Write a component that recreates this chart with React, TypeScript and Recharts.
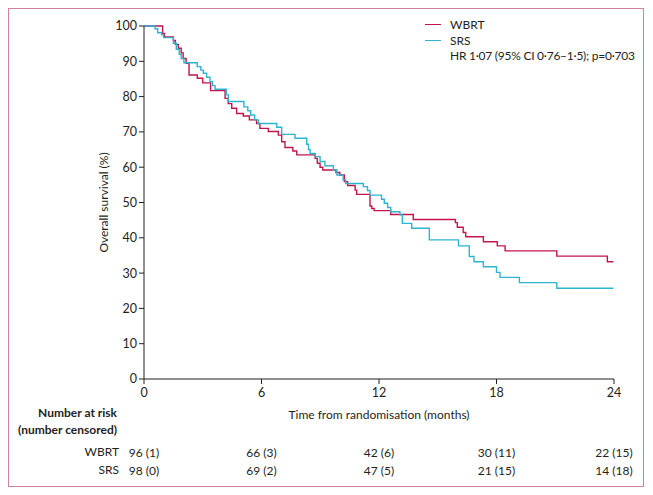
import React from "react";
import { LineChart, Line, XAxis, YAxis } from "recharts";

// Kaplan-Meier steps (months, % surviving)
const wbrtTimes = [0, 0.95, 1.05, 1.5, 1.6, 1.75, 1.9, 2.0, 2.15, 2.3, 2.72, 3.0, 3.4, 4.14, 4.3, 4.48, 4.73, 5.07, 5.38, 5.75, 5.92, 6.35, 6.86, 7.03, 7.2, 7.6, 7.8, 8.74, 8.85, 8.99, 9.13, 9.8, 10.0, 10.23, 10.4, 10.78, 10.86, 11.54, 11.63, 11.75, 12.6, 13.75, 15.9, 16.0, 16.3, 16.43, 17.33, 18.04, 18.44, 21.08, 23.66, 23.97];
const wbrtSurv = [100, 97.9, 96.9, 95.9, 94.8, 93.7, 92.4, 90.8, 89.4, 86.1, 85.2, 83.9, 81.7, 79.5, 78.0, 76.7, 75.2, 74.5, 73.4, 72.4, 71.0, 70.1, 69.1, 67.2, 65.6, 64.6, 63.5, 62.5, 61.1, 60.0, 59.2, 58.5, 57.8, 55.9, 54.8, 53.5, 52.3, 49.0, 48.3, 47.7, 46.6, 45.2, 44.3, 43.0, 41.5, 40.3, 38.9, 37.7, 36.3, 34.8, 33.2, 33.2];

const srsTimes = [0, 0.56, 0.7, 0.9, 1.0, 1.5, 1.65, 1.8, 1.9, 2.04, 2.72, 2.9, 3.03, 3.2, 3.37, 3.5, 3.63, 4.2, 4.31, 5.1, 5.3, 5.45, 5.65, 5.84, 6.78, 7.03, 7.71, 8.31, 8.4, 8.48, 8.74, 8.99, 9.24, 9.67, 9.85, 10.17, 10.3, 11.2, 11.41, 11.54, 12.13, 12.27, 12.44, 12.6, 13.07, 13.19, 13.67, 14.57, 16.06, 16.61, 16.85, 17.33, 18.0, 18.18, 19.17, 21.08, 23.97];
const srsSurv = [100, 99.2, 98.1, 97.5, 96.7, 95.1, 93.4, 92.0, 90.8, 89.6, 88.5, 87.5, 86.6, 85.5, 84.2, 83.1, 82.1, 80.5, 78.6, 77.1, 76.0, 74.8, 73.4, 72.4, 71.3, 69.3, 68.2, 66.5, 65.0, 63.9, 63.0, 61.6, 60.4, 59.2, 57.8, 56.4, 55.4, 54.5, 53.4, 52.1, 50.9, 49.8, 48.6, 47.4, 46.5, 44.1, 42.7, 39.4, 37.7, 34.7, 33.2, 31.8, 30.2, 28.8, 27.3, 25.7, 25.7];

const xTicks = [0, 6, 12, 18, 24];
const yTicks = [0, 10, 20, 30, 40, 50, 60, 70, 80, 90, 100];
const wbrtRisk = ["96 (1)", "66 (3)", "42 (6)", "30 (11)", "22 (15)"];
const srsRisk = ["98 (0)", "69 (2)", "47 (5)", "21 (15)", "14 (18)"];

const WBRT_COLOR = "#c3154c";
const SRS_COLOR = "#2db4cf";
const INK = "#231f20";
const FONT = "Lato, 'Open Sans', sans-serif";

const wbrtData = wbrtTimes.map((t, i) => ({ t, s: wbrtSurv[i] }));
const srsData = srsTimes.map((t, i) => ({ t, s: srsSurv[i] }));

const tickStyle = { fill: INK, fontSize: 12.5, fontFamily: FONT };

// x tick plus the number-at-risk cells that sit under it
function RiskTick(props: any) {
  const { x, y, payload, index } = props;
  const i = index ?? xTicks.indexOf(payload.value);
  return (
    <g fill={INK} fontSize={12} fontFamily={FONT} textAnchor="middle">
      <text x={x} y={y} dy="0.71em" fontSize={12.5}>{payload.value}</text>
      <text x={x} y={y + 60} dy="0.71em">{wbrtRisk[i]}</text>
      <text x={x} y={y + 78} dy="0.71em">{srsRisk[i]}</text>
    </g>
  );
}

function XLabel(p: any) {
  const vb = p.viewBox || { x: 135, y: 370, width: 470 };
  const lx = vb.x - 27;
  return (
    <g fill={INK} fontFamily={FONT} fontSize={12}>
      <text x={vb.x + vb.width / 2} y={vb.y + 40} textAnchor="middle">
        Time from randomisation (months)
      </text>
      <text x={lx} y={vb.y + 38} textAnchor="end" fontWeight="bold">Number at risk</text>
      <text x={lx} y={vb.y + 55} textAnchor="end" fontWeight="bold">(number censored)</text>
      <text x={vb.x - 25} y={vb.y + 77} textAnchor="end">WBRT</text>
      <text x={vb.x - 25} y={vb.y + 95} textAnchor="end">SRS</text>
    </g>
  );
}

function YLabel(p: any) {
  const vb = p.viewBox || { x: 85, y: 17, height: 353 };
  const cx = vb.x + 9;
  const cy = vb.y + vb.height / 2;
  return (
    <text
      x={cx}
      y={cy}
      transform={`rotate(-90 ${cx} ${cy})`}
      textAnchor="middle"
      dominantBaseline="central"
      fill={INK}
      fontSize={12}
      fontFamily={FONT}
    >
      Overall survival (%)
    </text>
  );
}

const legendItems = [
  { name: "WBRT", color: WBRT_COLOR },
  { name: "SRS", color: SRS_COLOR },
];

export default function App() {
  return (
    <div
      style={{
        position: "relative",
        width: 636,
        height: 479,
        boxSizing: "border-box",
        border: "1px solid #cf80a4",
        background: "#fff",
      }}
    >
      <LineChart width={634} height={477} margin={{ top: 17, right: 29, left: 85, bottom: 9 }}>
        <YAxis
          type="number"
          domain={[0, 100]}
          ticks={yTicks}
          width={50}
          tick={tickStyle}
          tickSize={5}
          tickMargin={2}
          stroke={INK}
          interval={0}
          label={{ content: YLabel }}
        />
        <XAxis
          dataKey="t"
          type="number"
          domain={[0, 24]}
          ticks={xTicks}
          interval={0}
          height={98}
          tick={<RiskTick />}
          tickSize={5}
          tickMargin={4}
          stroke={INK}
          label={{ content: XLabel }}
        />
        <Line
          data={wbrtData}
          dataKey="s"
          name="WBRT"
          type="stepAfter"
          stroke={WBRT_COLOR}
          strokeWidth={1.4}
          dot={false}
          activeDot={false}
          isAnimationActive={false}
        />
        <Line
          data={srsData}
          dataKey="s"
          name="SRS"
          type="stepAfter"
          stroke={SRS_COLOR}
          strokeWidth={1.4}
          dot={false}
          activeDot={false}
          isAnimationActive={false}
        />
      </LineChart>
      <div
        style={{
          position: "absolute",
          left: 416,
          top: 8,
          fontFamily: FONT,
          fontSize: 12,
          color: INK,
          lineHeight: "15.5px",
          whiteSpace: "nowrap",
        }}
      >
        {legendItems.map((it) => (
          <div key={it.name} style={{ display: "flex", alignItems: "center" }}>
            <span style={{ display: "inline-block", width: 16, height: 0, borderTop: `1.5px solid ${it.color}`, marginRight: 9 }} />
            <span>{it.name}</span>
          </div>
        ))}
        <div style={{ paddingLeft: 25, letterSpacing: "-0.25px" }}>HR 1·07 (95% CI 0·76–1·5); p=0·703</div>
      </div>
    </div>
  );
}
